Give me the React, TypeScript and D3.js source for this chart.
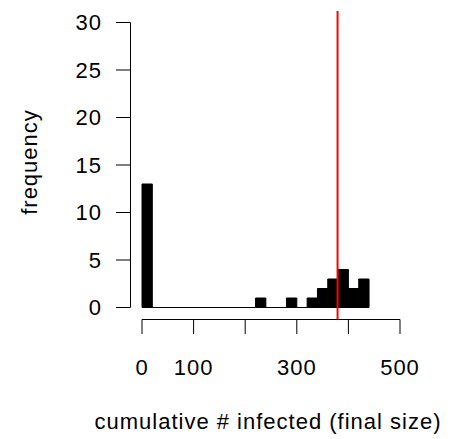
import React from 'react';
import * as d3 from 'd3';

// histogram bins (width 20) and their counts
const binStarts = [0, 20, 40, 60, 80, 100, 120, 140, 160, 180, 200, 220, 240, 260, 280, 300, 320, 340, 360, 380, 400, 420];
const binCounts = [13, 0, 0, 0, 0, 0, 0, 0, 0, 0, 0, 1, 0, 0, 1, 0, 1, 2, 3, 4, 2, 3];
const binWidth = 20;
const xTicks = [0, 100, 200, 300, 400, 500];
const xTickLabels = ['0', '100', '', '300', '', '500'];
const yTicks = [0, 5, 10, 15, 20, 25, 30];
const markerValue = 379;

const W = 451;
const H = 439;
const FONT = '"Liberation Sans", Arial, sans-serif';

export default function App() {
  const x = d3.scaleLinear().domain([0, 500]).range([142, 400]);
  const y = d3.scaleLinear().domain([0, 30]).range([307.5, 22.5]);
  const [ux0, ux1] = [-20, 520];
  const [uy0, uy1] = [-1.2, 31.2];

  // outline path per bin so empty bins still leave their line on the baseline
  const barPath = (s: number, c: number) => {
    const p = d3.path();
    p.moveTo(x(s), y(0));
    p.lineTo(x(s + binWidth), y(0));
    p.lineTo(x(s + binWidth), y(c));
    p.lineTo(x(s), y(c));
    p.closePath();
    return p.toString();
  };

  return (
    <svg
      width={W}
      height={H}
      style={{ position: 'absolute', left: 0, top: 0, background: '#fff' }}
      fontFamily={FONT}
      fontSize={22}
      letterSpacing={1}
    >
      {/* bars */}
      {binStarts.map((s, i) => (
        <path key={i} d={barPath(s, binCounts[i])} fill="#000" stroke="#000" strokeWidth={1} />
      ))}

      {/* y axis */}
      <line x1={130.5} x2={130.5} y1={y(0)} y2={y(30)} stroke="#000" />
      {yTicks.map(t => (
        <g key={t}>
          <line x1={116} x2={130.5} y1={y(t)} y2={y(t)} stroke="#000" />
          <text x={102} y={y(t)} dy="0.36em" textAnchor="end">{t}</text>
        </g>
      ))}

      {/* x axis */}
      <line x1={x(0)} x2={x(500)} y1={319.5} y2={319.5} stroke="#000" />
      {xTicks.map((t, i) => (
        <g key={t}>
          <line x1={x(t)} x2={x(t)} y1={319.5} y2={334} stroke="#000" />
          <text x={x(t)} y={375} textAnchor="middle">{xTickLabels[i]}</text>
        </g>
      ))}

      {/* marker line */}
      <line
        x1={x(markerValue)}
        x2={x(markerValue)}
        y1={y(uy0)}
        y2={y(uy1)}
        stroke="#ff0000"
        strokeWidth={2}
      />

      <text x={(x(ux0) + x(ux1)) / 2 - 3} y={429} textAnchor="middle">
        cumulative # infected (final size)
      </text>
      <text transform={`translate(37,${(y(uy0) + y(uy1)) / 2 - 3}) rotate(-90)`} textAnchor="middle">
        frequency
      </text>
    </svg>
  );
}
